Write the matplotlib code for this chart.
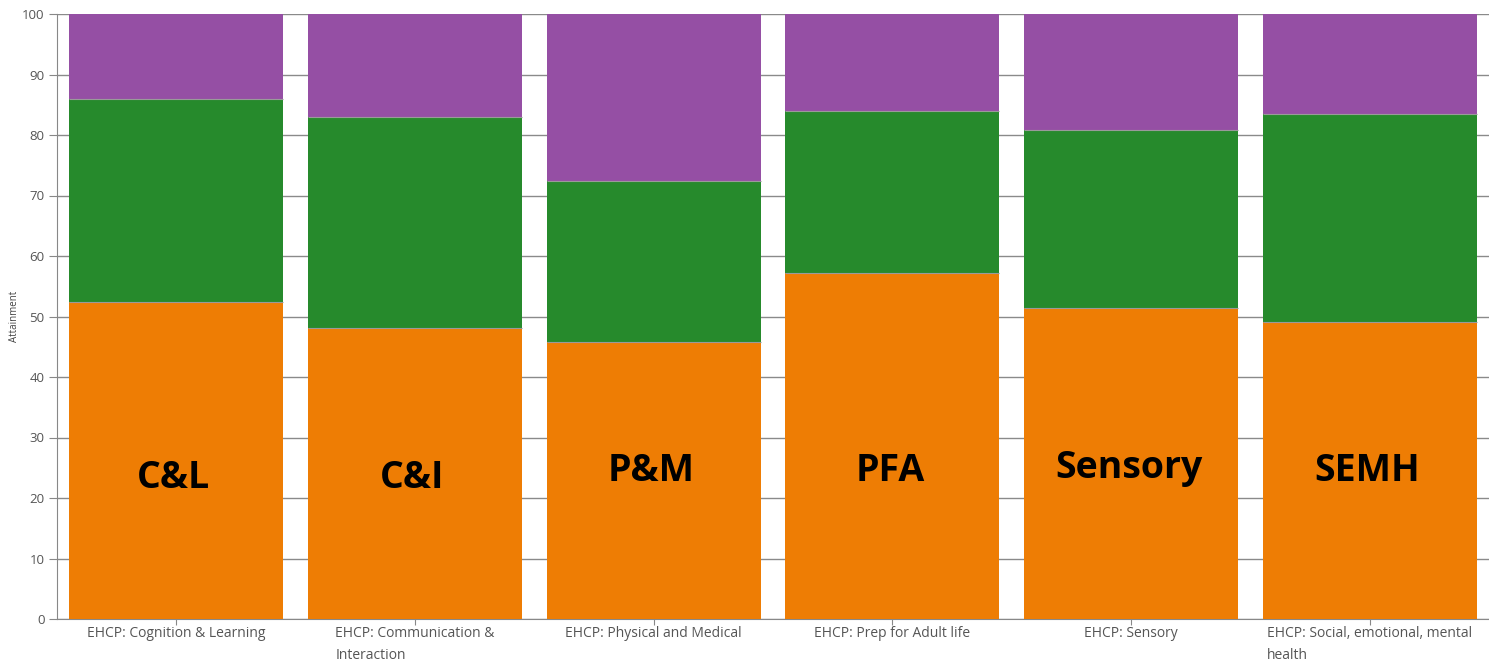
import matplotlib.pyplot as plt
import numpy as np

categories = ['EHCP: Cognition & Learning', 'EHCP: Communication &\nInteraction',
              'EHCP: Physical and Medical', 'EHCP: Prep for Adult life',
              'EHCP: Sensory', 'EHCP: Social, emotional, mental\nhealth']
short_names = ['C&L', 'C&I', 'P&M', 'PFA', 'Sensory', 'SEMH']
label_y = [21.7, 21.7, 22.8, 22.8, 23.3, 22.8]

# segment tops (percent)
orange_top = [52.4, 48.1, 45.8, 57.2, 51.4, 49.1]
green_top = [86.0, 83.0, 72.4, 84.0, 80.8, 83.5]

orange = np.array(orange_top)
green = np.array(green_top) - orange
purple = 100 - np.array(green_top)

c_orange = '#EE7D04'
c_green = '#268A2C'
c_purple = '#954FA4'

fig = plt.figure(figsize=(14.89, 6.65), dpi=100)
ax = fig.add_axes([57 / 1489, 1 - 619 / 665, 1432 / 1489, 605 / 665])

x = np.arange(len(categories))
w = 0.897
ax.bar(x, orange, w, color=c_orange, zorder=3)
ax.bar(x, green, w, bottom=orange, color=c_green, zorder=3)
ax.bar(x, purple, w, bottom=orange + green, color=c_purple, zorder=3)
# thin grey separators between segments
ax.hlines(orange, x - w / 2, x + w / 2, color='#9a9a9a', lw=0.8, zorder=4)
ax.hlines(orange + green, x - w / 2, x + w / 2, color='#9a9a9a', lw=0.8, zorder=4)

for xi, name, ly in zip(x, short_names, label_y):
    ax.text(xi - 0.01, ly, name, ha='center', va='baseline', fontsize=27,
            fontweight='bold', family='Open Sans', color='black', zorder=5)

ax.set_xlim(-0.5, len(categories) - 0.5)
ax.set_ylim(0, 100)
ax.set_yticks(np.arange(0, 101, 10))
ax.yaxis.grid(True, color='#8a8a8a', lw=1.0, zorder=0)
ax.set_axisbelow(True)

ax.set_xticks(x)
ax.set_xticklabels(categories, fontsize=10, color='#555555', family='Open Sans',
                   multialignment='left', va='top', linespacing=1.6)
ax.tick_params(axis='x', length=4, color='#888888', pad=1)
ax.tick_params(axis='y', length=6, color='#888888', labelsize=9.5, labelcolor='#555555', pad=3)
for lab in ax.get_yticklabels():
    lab.set_family('Open Sans')

ax.set_ylabel('Attainment', fontsize=7, color='#444444', family='Open Sans')
ax.yaxis.set_label_coords(-0.026, 0.5)

for s in ['top', 'right']:
    ax.spines[s].set_visible(False)
ax.spines['left'].set_color('#888888')
ax.spines['bottom'].set_color('#888888')

fig.savefig('out.png', dpi=100)
